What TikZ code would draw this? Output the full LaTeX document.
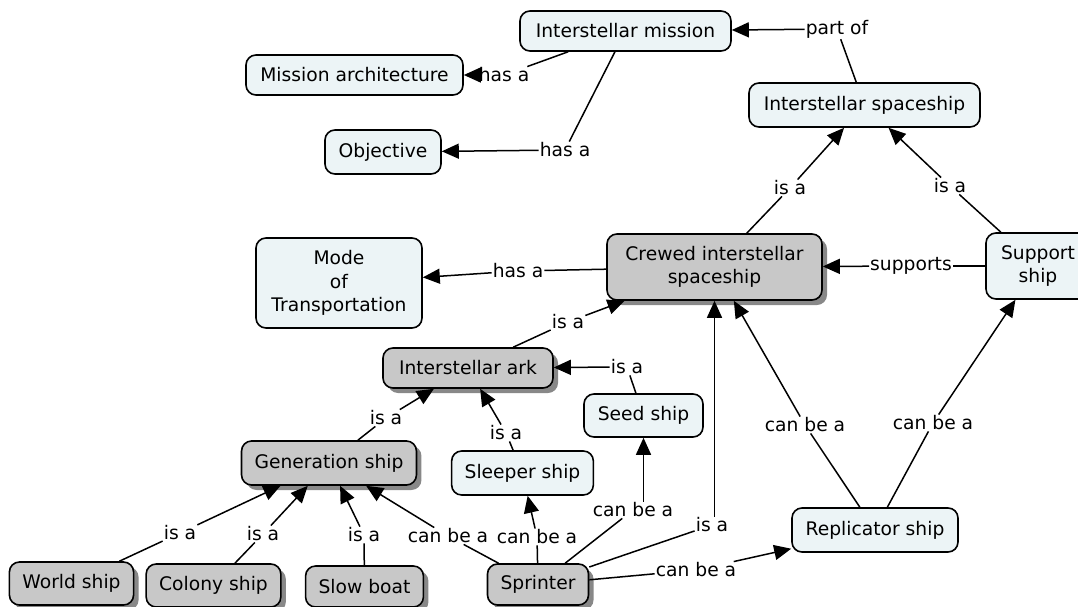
\documentclass[tikz,border=0pt]{standalone}
\usepackage{fontspec}
\setmainfont{DejaVu Sans}
\usetikzlibrary{arrows.meta,shadows}
\definecolor{lightfill}{HTML}{ECF4F6}
\definecolor{darkfill}{HTML}{C8C8C8}
\definecolor{shadowc}{HTML}{888888}
\begin{document}
\begin{tikzpicture}[x=1pt,y=-1pt,
  font=\fontsize{18.7}{23.5}\selectfont,
  box/.style={draw=black, line width=1.6pt, rounded corners=10pt, inner xsep=13pt, inner ysep=2pt, align=center},
  light/.style={box, fill=lightfill},
  dark/.style={box, fill=darkfill, drop shadow={shadow xshift=5pt, shadow yshift=-5pt, fill=shadowc, opacity=1}},
  lbl/.style={fill=white, inner sep=1pt},
  ln/.style={line width=1.5pt},
  arr/.style={ln, -{Triangle[length=17pt,width=15pt]}}]
\useasboundingbox (0,0) rectangle (1078,607);
\fill[white] (0,0) rectangle (1078,607);
% concept nodes
\node[light, minimum width=211pt, minimum height=40pt] (im) at (625.5,31) {Interstellar mission};
\node[light, minimum width=217pt, minimum height=40pt] (ma) at (354.5,75) {Mission architecture};
\node[light, minimum width=116pt, minimum height=44pt] (obj) at (383,152) {Objective};
\node[light, minimum width=231pt, minimum height=44pt] (is) at (864.5,105) {Interstellar spaceship};
\node[dark, minimum width=215pt, minimum height=66pt] (cr) at (714.5,267) {Crewed interstellar\\spaceship};
\node[light, minimum width=104pt, minimum height=66pt] (sup) at (1038,266) {Support\\ship};
\node[light, minimum width=166pt, minimum height=90pt] (mode) at (339,283) {Mode\\of\\Transportation};
\node[dark, minimum width=170pt, minimum height=40pt] (ark) at (468,368) {Interstellar ark};
\node[light, minimum width=119pt, minimum height=43pt] (seed) at (643.5,415.5) {Seed ship};
\node[dark, minimum width=172pt, minimum height=44pt] (gen) at (329,463) {Generation ship};
\node[light, minimum height=44pt] (sl) at (522.5,473) {Sleeper ship};
\node[light, minimum width=166pt, minimum height=44pt] (rep) at (875,530) {Replicator ship};
\node[dark, minimum width=123pt, minimum height=43pt] (world) at (71.5,583.5) {World ship};
\node[dark, minimum width=131pt, minimum height=43pt] (col) at (213.5,585.5) {Colony ship};
\node[dark, minimum width=117pt, minimum height=41pt] (slow) at (364.5,586.5) {Slow boat};
\node[dark, minimum height=41pt] (spr) at (538,584.5) {Sprinter};
% linking phrases
\node[lbl] (l1) at (837,29) {part of};
\node[lbl] (l2) at (504,75) {has a};
\node[lbl] (l3) at (565,150) {has a};
\node[lbl] (l4) at (790,188) {is a};
\node[lbl] (l5) at (950,186) {is a};
\node[lbl] (l6) at (911,266) {supports};
\node[lbl] (l7) at (518,271) {has a};
\node[lbl] (l8) at (568,322) {is a};
\node[lbl] (l9) at (627,367) {is a};
\node[lbl] (l10) at (386,418) {is a};
\node[lbl] (l11) at (506,433) {is a};
\node[lbl] (l12) at (180,533) {is a};
\node[lbl] (l13) at (263,534) {is a};
\node[lbl] (l14) at (364,535) {is a};
\node[lbl] (l15) at (448,536) {can be a};
\node[lbl] (l16) at (537,537) {can be a};
\node[lbl] (l17) at (633,510) {can be a};
\node[lbl] (l18) at (712,525) {is a};
\node[lbl] (l19) at (696,570) {can be a};
\node[lbl] (l20) at (805,425) {can be a};
\node[lbl] (l21) at (933,423) {can be a};
% connectors
\draw[ln] (is) -- (l1); \draw[arr] (l1) -- (im);
\draw[ln] (im) -- (l2); \draw[arr] (l2) -- (ma);
\draw[ln] (im) -- (l3); \draw[arr] (l3) -- (obj);
\draw[ln] (cr) -- (l4); \draw[arr] (l4) -- (is);
\draw[ln] (sup) -- (l5); \draw[arr] (l5) -- (is);
\draw[ln] (sup) -- (l6); \draw[arr] (l6) -- (cr);
\draw[ln] (cr) -- (l7); \draw[arr] (l7) -- (mode);
\draw[ln] (ark) -- (l8); \draw[arr] (l8) -- (cr);
\draw[ln] (seed) -- (l9); \draw[arr] (l9) -- (ark);
\draw[ln] (gen) -- (l10); \draw[arr] (l10) -- (ark);
\draw[ln] (sl) -- (l11); \draw[arr] (l11) -- (ark);
\draw[ln] (world) -- (l12); \draw[arr] (l12) -- (gen);
\draw[ln] (col) -- (l13); \draw[arr] (l13) -- (gen);
\draw[ln] (slow) -- (l14); \draw[arr] (l14) -- (gen);
\draw[ln] (spr) -- (l15); \draw[arr] (l15) -- (gen);
\draw[ln] (spr) -- (l16); \draw[arr] (l16) -- (sl);
\draw[ln] (spr) -- (l17); \draw[arr] (l17.north -| seed.south) -- (seed.south);
\draw[ln] (spr) -- (l18); \draw[arr] (l18.north -| cr.south) -- (cr.south);
\draw[ln] (spr) -- (l19); \draw[arr] (l19) -- (rep);
\draw[ln] (rep) -- (l20); \draw[arr] (l20) -- (cr);
\draw[ln] (rep) -- (l21); \draw[arr] (l21) -- (sup);
\end{tikzpicture}
\end{document}
